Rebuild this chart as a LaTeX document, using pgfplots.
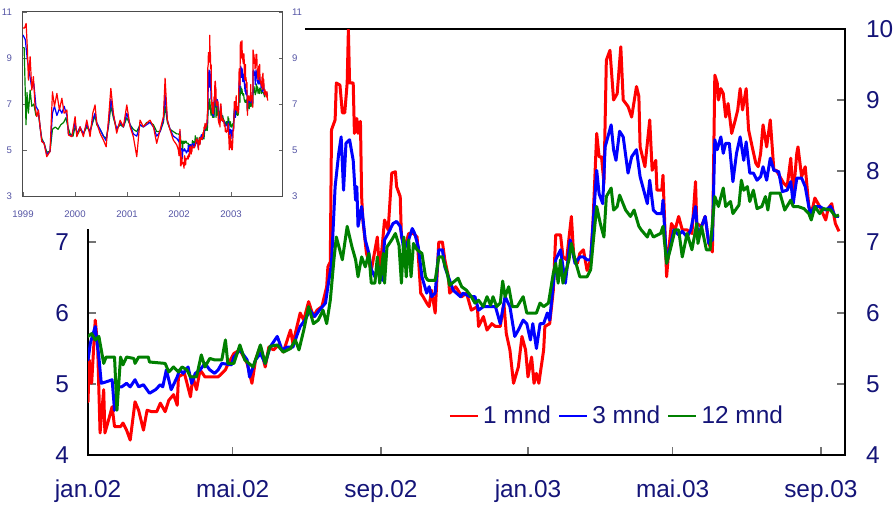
\documentclass[border=0pt]{standalone}
\usepackage{fontspec}
\setmainfont{Liberation Sans}
\usepackage{pgfplots}
\usepackage{pgfplotstable}
\pgfplotsset{compat=1.18}

\definecolor{navy}{RGB}{20,20,120}
\definecolor{lnavy}{RGB}{85,85,165}
\definecolor{cred}{RGB}{255,0,0}
\definecolor{cblue}{RGB}{0,0,255}
\definecolor{cgreen}{RGB}{0,128,0}

% days counted from 1 jan 2002 (negative = 1999-2001, only seen in the small chart)
\pgfplotstableread{
d v
-1096 10.3
-1085 10.3
-1074 10.5
-1065 9.35
-1058 8.04
-1046 9.06
-1034 7.6
-1023 8.19
-1011 6.88
-999 6.45
-988 6.74
-976 6.01
-964 5.36
-948 5.29
-929 4.71
-915 4.85
-906 4.93
-889 7.53
-875 6.9
-858 7.46
-840 6.74
-823 7.25
-807 6.6
-788 6.74
-777 5.65
-753 5.58
-730 6.45
-718 5.58
-695 6.01
-672 5.58
-648 6.3
-625 5.58
-606 6.6
-590 6.96
-578 6.16
-555 5.73
-531 5.43
-512 5.14
-496 6.3
-479 7.68
-461 6.6
-438 5.73
-414 6.3
-391 6.01
-367 6.96
-344 6.01
-321 5.58
-297 4.71
-274 6.3
-251 6.01
-227 6.16
-204 6.3
-180 6.01
-157 5.29
-133 5.87
-110 6.45
-98 8.12
-82 6.3
-63 5.87
-40 5.43
-16 5.22
-5 5.0
0 4.75
1 5.34
3 5.01
6 5.90
8 5.53
10 4.31
13 4.92
14 4.31
17 4.49
20 4.68
22 4.40
27 4.40
29 4.45
32 4.35
35 4.21
39 4.75
42 4.63
46 4.35
49 4.63
53 4.61
57 4.61
60 4.73
64 4.61
67 4.77
71 4.85
74 4.70
75 5.10
80 5.15
85 4.82
87 5.10
90 4.92
93 5.20
97 5.10
103 5.10
108 5.10
114 5.20
115 5.24
121 5.43
126 5.48
132 5.29
136 5.01
139 5.34
143 5.53
147 5.24
150 5.52
154 5.48
158 5.55
162 5.45
168 5.76
170 5.57
176 6.00
179 5.90
183 6.16
187 5.95
190 6.04
194 6.09
198 6.37
199 6.65
201 6.72
202 8.58
205 8.72
206 9.24
209 9.21
211 8.82
213 8.82
215 9.24
216 9.99
217 9.24
220 9.24
221 8.53
223 8.74
224 8.53
226 8.70
227 7.64
228 7.31
231 6.84
235 6.60
240 7.07
242 6.56
246 7.31
249 7.17
252 7.97
255 7.99
256 7.78
259 7.64
260 7.07
263 6.93
266 7.12
270 7.12
273 7.07
276 6.28
278 6.23
281 6.14
283 6.09
285 6.32
288 6.00
291 7.00
294 7.00
296 6.75
299 6.51
300 6.28
305 6.37
307 6.32
310 6.23
314 6.28
318 6.04
323 6.09
324 5.81
328 5.95
331 5.76
335 5.85
338 5.81
342 5.81
345 6.14
347 5.71
350 5.48
353 5.01
357 5.24
360 5.67
363 5.48
365 5.10
368 5.38
370 5.01
372 5.15
374 5.01
378 5.48
379 5.81
383 5.85
386 6.32
388 7.10
392 7.10
394 6.79
397 6.75
401 7.36
403 6.79
406 6.70
408 6.84
411 6.89
414 6.60
417 6.75
419 7.31
422 8.53
424 8.20
426 8.20
428 7.83
430 9.56
433 9.70
436 9.00
439 9.09
442 9.75
444 9.00
448 8.91
451 8.76
455 9.19
457 9.05
458 8.34
462 8.06
466 8.72
468 8.01
471 8.15
472 7.73
476 7.73
477 7.94
480 6.51
482 6.93
484 7.26
487 7.17
490 7.36
493 7.17
497 7.17
501 7.12
504 7.85
505 7.26
509 7.22
512 7.36
515 6.98
518 6.86
520 9.35
522 9.24
523 9.00
525 9.16
527 9.09
529 8.76
531 8.95
534 8.53
537 8.72
539 8.86
541 9.16
543 8.86
546 9.16
548 8.58
551 8.34
554 8.11
556 8.06
558 8.25
560 8.65
563 8.34
566 8.72
569 8.01
571 8.01
574 7.92
577 7.83
580 7.78
583 8.18
585 7.64
588 8.25
589 8.34
592 7.92
595 8.06
598 7.50
600 7.40
603 7.62
607 7.50
612 7.31
614 7.47
617 7.54
620 7.26
623 7.15
}\enmnd

\pgfplotstableread{
d v
-1096 10.0
-1080 9.8
-1065 8.9
-1050 8.3
-1034 7.7
-1020 7.9
-1005 6.9
-988 6.7
-976 6.0
-964 5.4
-948 5.3
-929 4.8
-906 4.95
-889 6.6
-875 6.9
-858 6.5
-840 6.8
-823 6.6
-807 6.9
-788 6.5
-777 5.7
-753 5.6
-730 6.2
-718 5.7
-695 6.0
-672 5.7
-648 6.1
-625 5.8
-606 6.3
-590 6.6
-578 6.2
-555 5.9
-531 5.6
-512 5.4
-496 6.1
-479 7.2
-461 6.5
-438 5.9
-414 6.2
-391 6.0
-367 6.6
-344 6.1
-321 5.7
-297 5.6
-274 6.1
-251 6.0
-227 6.1
-204 6.2
-180 6.0
-157 5.6
-133 5.8
-110 6.3
-98 7.4
-82 6.3
-63 5.9
-40 5.6
-16 5.5
-5 5.4
0 5.34
2 5.58
6 5.81
9 5.38
11 5.01
15 5.03
20 5.06
22 4.63
25 4.96
28 4.96
32 5.01
35 4.96
39 5.06
42 4.96
46 4.99
51 4.87
56 4.92
60 4.99
62 4.96
65 5.20
69 4.92
74 5.10
76 5.20
79 5.15
83 5.24
86 5.01
89 5.15
93 5.20
97 5.29
101 5.20
105 5.15
108 5.20
111 5.29
119 5.27
121 5.38
126 5.48
132 5.34
134 5.10
139 5.34
143 5.43
147 5.29
151 5.52
157 5.67
161 5.48
165 5.52
170 5.52
173 5.67
176 5.81
180 5.90
184 6.04
188 5.95
192 6.04
197 6.14
199 6.37
202 6.70
205 7.78
208 8.25
210 8.48
212 7.73
214 8.39
217 8.44
220 8.15
222 7.59
223 7.78
224 7.22
227 7.50
230 7.03
233 6.84
235 6.61
238 6.51
241 6.65
244 6.46
246 7.03
249 7.12
253 7.26
256 7.29
259 7.22
262 6.89
266 7.03
269 7.19
271 7.12
274 6.93
277 6.51
281 6.28
283 6.37
285 6.23
288 6.28
291 6.89
294 6.89
296 6.65
300 6.46
303 6.32
309 6.23
311 6.28
317 6.23
321 6.23
324 6.04
328 6.09
332 6.09
338 6.09
342 5.85
346 6.23
350 6.09
354 5.67
357 5.76
361 5.90
364 5.85
367 5.62
369 5.85
372 5.50
375 5.85
378 5.85
381 6.00
383 5.90
388 6.75
392 6.89
396 6.42
400 7.03
404 6.70
408 6.79
411 6.79
414 6.75
417 6.75
419 7.26
422 8.01
424 7.68
427 7.54
429 8.34
434 8.65
436 8.30
438 8.15
441 8.56
444 8.48
448 7.97
451 8.20
455 8.30
458 7.92
461 7.73
464 7.54
466 7.87
469 7.45
472 7.40
476 7.40
477 7.59
480 6.70
483 6.93
486 7.17
490 7.10
493 7.15
497 7.07
500 7.17
504 7.50
506 7.07
509 7.22
512 7.36
515 6.98
518 7.03
520 8.44
522 8.30
525 8.48
527 8.25
529 8.39
532 8.39
535 7.85
538 8.25
541 8.48
544 8.15
546 8.41
549 7.97
552 7.97
555 7.87
558 7.92
560 8.06
563 7.87
566 8.18
569 8.01
573 7.99
576 7.71
580 7.73
583 7.85
585 7.54
588 7.90
592 7.90
595 7.78
599 7.40
603 7.50
607 7.50
612 7.45
616 7.50
620 7.36
623 7.36
}\tremnd

\pgfplotstableread{
d v
-1096 9.45
-1088 9.45
-1080 7.5
-1075 6.1
-1068 7.5
-1058 6.6
-1046 7.6
-1034 6.9
-1020 7.0
-1005 6.5
-988 6.6
-976 6.0
-964 5.5
-948 5.3
-929 4.9
-906 4.95
-889 5.9
-870 6.0
-850 5.9
-830 6.1
-810 6.2
-795 6.4
-780 6.0
-765 5.7
-745 5.6
-730 6.0
-710 5.7
-695 5.9
-672 5.7
-648 6.0
-625 5.8
-606 6.2
-590 6.5
-578 6.1
-555 5.9
-531 5.6
-512 5.5
-496 6.0
-479 6.9
-461 6.4
-438 5.9
-414 6.1
-391 6.0
-367 6.4
-344 6.1
-321 5.9
-297 5.8
-274 6.1
-251 6.0
-227 6.2
-204 6.2
-180 6.1
-157 5.8
-133 5.8
-110 6.2
-98 6.9
-82 6.2
-63 5.9
-40 5.8
-16 5.7
-5 5.7
0 5.67
3 5.71
6 5.62
9 5.67
13 5.29
15 5.38
20 5.38
22 5.38
24 4.63
27 5.38
29 5.27
32 5.38
38 5.36
39 5.29
42 5.38
50 5.38
51 5.31
64 5.29
67 5.17
71 5.24
75 5.17
78 5.24
82 5.20
85 5.10
90 5.10
94 5.41
97 5.24
101 5.36
105 5.34
111 5.34
114 5.62
116 5.29
121 5.29
126 5.55
130 5.34
137 5.24
143 5.55
147 5.29
151 5.53
157 5.55
162 5.45
168 5.50
172 5.62
175 5.48
179 5.76
183 6.09
187 5.85
191 5.90
195 6.04
198 5.85
201 6.18
204 6.75
206 7.07
211 6.75
215 7.22
219 6.93
222 6.75
224 6.51
227 6.79
230 6.65
233 6.84
235 6.42
238 6.42
240 6.79
242 6.42
245 6.84
246 6.42
248 6.93
252 7.03
255 7.12
258 6.95
260 6.42
262 7.07
264 6.51
266 7.03
268 6.51
270 6.98
273 6.89
277 6.84
280 6.51
282 6.46
288 6.46
291 6.79
294 6.79
298 6.56
300 6.39
307 6.49
310 6.37
314 6.32
318 6.23
321 6.14
324 6.18
328 6.09
331 6.23
334 6.11
336 6.23
339 6.09
342 6.14
344 6.45
346 6.23
349 6.37
352 6.09
356 6.09
361 6.23
364 6.00
372 6.00
375 6.14
378 6.09
382 6.14
386 6.56
388 6.70
390 6.42
392 6.75
394 6.42
399 6.75
401 6.98
404 6.75
408 6.51
414 6.51
417 6.61
419 6.98
422 7.50
425 7.26
428 7.07
430 7.64
434 7.76
436 7.45
439 7.50
441 7.66
446 7.45
450 7.36
453 7.45
457 7.22
459 7.17
464 7.07
466 7.17
469 7.07
475 7.12
477 7.22
480 6.70
483 6.89
487 7.17
490 7.17
493 6.79
497 7.12
501 6.89
505 7.26
506 6.98
509 7.22
513 6.89
516 6.89
520 7.64
523 7.50
527 7.76
529 7.50
533 7.57
535 7.40
540 7.52
542 7.87
544 7.73
547 7.78
549 7.57
552 7.73
555 7.47
559 7.50
562 7.64
564 7.45
566 7.69
570 7.69
574 7.69
578 7.45
583 7.59
585 7.50
589 7.50
594 7.47
598 7.40
600 7.31
603 7.50
607 7.40
610 7.47
616 7.45
620 7.36
623 7.38
}\tolvmnd

\pgfplotsset{
  bigfont/.style={font=\fontsize{12.2}{14}\selectfont},
  smallfont/.style={font=\fontsize{4.8}{5.5}\selectfont},
}

\begin{document}
\begin{tikzpicture}
\useasboundingbox (0,0) rectangle (447.5pt,252.5pt);

% main chart, 2002-2003
\begin{axis}[
    at={(44pt,25pt)}, anchor=south west,
    scale only axis, width=378.5pt, height=213pt,
    xmin=0, xmax=628, ymin=4, ymax=10,
    xtick={0,120,243,365,485,608},
    xticklabels={jan.02,mai.02,sep.02,jan.03,mai.03,sep.03},
    ytick={4,5,6,7,8,9,10},
    xtick pos=bottom, ytick pos=both, yticklabel pos=right,
    tick align=inside, major tick length=4pt,
    axis line style={black, line width=0.8pt},
    every tick/.style={black!55, line width=0.6pt},
    tick label style={bigfont, text=navy},
    /pgf/number format/assume math mode=true,
    yticklabel style={xshift=7pt},
    xticklabel style={yshift=-9pt},
    legend style={at={(0.476,0.0915)}, anchor=west, draw=none, fill=none,
      inner sep=0pt, bigfont, text=navy,
      /tikz/every even column/.append style={column sep=1.5pt}},
    legend columns=-1,
    legend image code/.code={\draw[#1, line width=1.2pt] (0pt,0pt) -- (14pt,0pt);},
  ]
  \addplot[cred, line width=1.5pt, line join=round] table[x=d, y=v]{\enmnd};
  \addplot[cblue, line width=1.5pt, line join=round] table[x=d, y=v]{\tremnd};
  \addplot[cgreen, line width=1.5pt, line join=round] table[x=d, y=v]{\tolvmnd};
  \legend{1 mnd, 3 mnd, 12 mnd}
\end{axis}

% left scale of the main chart, 4-7 only
\begin{axis}[
    at={(44pt,25pt)}, anchor=south west,
    scale only axis, width=378.5pt, height=213pt,
    xmin=0, xmax=628, ymin=4, ymax=10,
    axis x line=none, axis y line*=left,
    ytick={4,5,6,7}, major tick length=0pt,
    axis line style={draw=none},
    tick label style={bigfont, text=navy},
    /pgf/number format/assume math mode=true,
    yticklabel style={xshift=-6pt},
  ]
  \addplot[draw=none] coordinates {(0,4)};
\end{axis}

% the corner that the small chart covers
\fill[white] (0,138pt) rectangle (152.5pt,252.5pt);

% small chart, 1999-2003
\begin{axis}[
    at={(11.5pt,154.5pt)}, anchor=south west,
    scale only axis, width=130pt, height=92pt,
    xmin=-1096, xmax=730, ymin=3, ymax=11,
    xtick={-1096,-731,-365,0,365},
    xticklabels={1999,2000,2001,2002,2003},
    ytick={3,5,7,9,11},
    xtick pos=bottom, ytick pos=both, yticklabel pos=left,
    tick align=inside, major tick length=2pt,
    axis line style={black!70, line width=0.5pt},
    every tick/.style={black!60, line width=0.4pt},
    tick label style={smallfont, text=lnavy},
    /pgf/number format/assume math mode=true,
    yticklabel style={xshift=-2pt},
    xticklabel style={yshift=-4pt},
  ]
  \addplot[cgreen, line width=0.6pt, line join=round] table[x=d, y=v]{\tolvmnd};
  \addplot[cblue, line width=0.6pt, line join=round] table[x=d, y=v]{\tremnd};
  \addplot[cred, line width=0.6pt, line join=round] table[x=d, y=v]{\enmnd};
\end{axis}

\begin{axis}[
    at={(11.5pt,154.5pt)}, anchor=south west,
    scale only axis, width=130pt, height=92pt,
    xmin=-1096, xmax=730, ymin=3, ymax=11,
    axis x line=none, axis y line*=right,
    ytick={3,5,7,9,11}, major tick length=0pt,
    axis line style={draw=none},
    tick label style={smallfont, text=lnavy},
    /pgf/number format/assume math mode=true,
    yticklabel style={xshift=1pt},
  ]
  \addplot[draw=none] coordinates {(0,3)};
\end{axis}
\end{tikzpicture}
\end{document}
